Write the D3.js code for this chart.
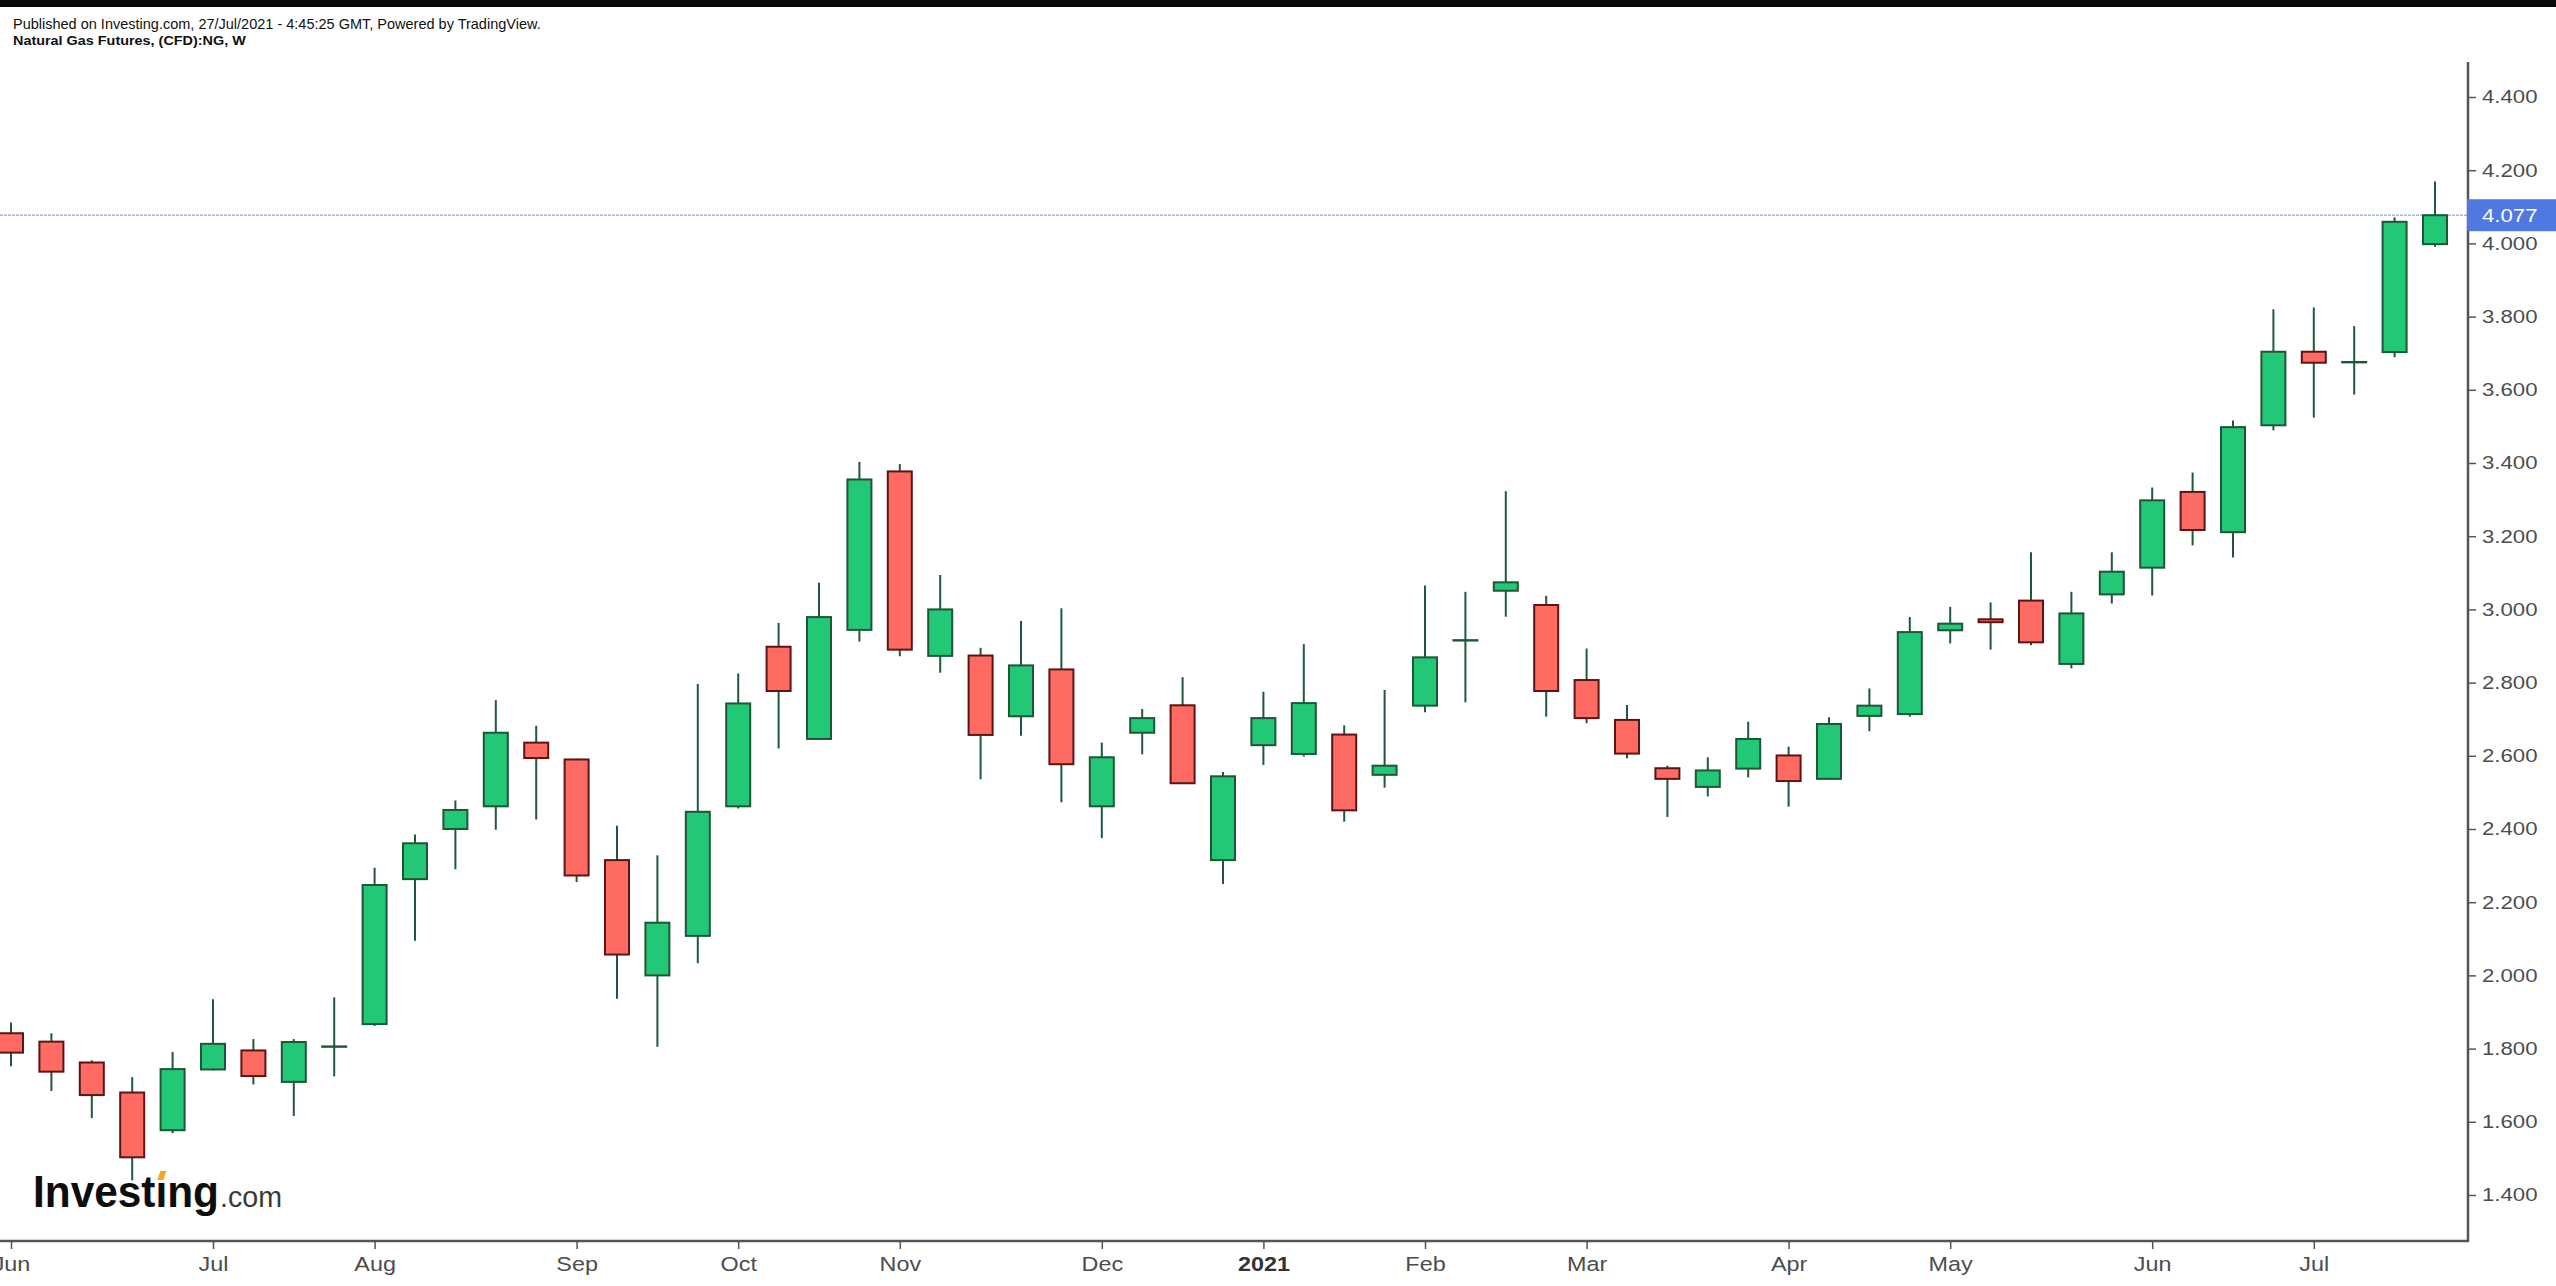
<!DOCTYPE html>
<html>
<head>
<meta charset="utf-8">
<script src="https://cdn.jsdelivr.net/npm/d3@7"></script>
<style>
  html, body { margin: 0; padding: 0; background: #fff; overflow: hidden; }
  svg { display: block; }
  text { font-family: "Liberation Sans", Arial, Helvetica, sans-serif; }
</style>
</head>
<body>
<svg id="chart" width="2556" height="1286"></svg>
<script>
// ---- Data (weekly candles, Natural Gas Futures) ----
const dates = [
  "2020-06-01","2020-06-08","2020-06-15","2020-06-22","2020-06-29",
  "2020-07-06","2020-07-13","2020-07-20","2020-07-27","2020-08-03",
  "2020-08-10","2020-08-17","2020-08-24","2020-08-31","2020-09-07",
  "2020-09-14","2020-09-21","2020-09-28","2020-10-05","2020-10-12",
  "2020-10-19","2020-10-26","2020-11-02","2020-11-09","2020-11-16",
  "2020-11-23","2020-11-30","2020-12-07","2020-12-14","2020-12-21",
  "2020-12-28","2021-01-04","2021-01-11","2021-01-18","2021-01-25",
  "2021-02-01","2021-02-08","2021-02-15","2021-02-22","2021-03-01",
  "2021-03-08","2021-03-15","2021-03-22","2021-03-29","2021-04-05",
  "2021-04-12","2021-04-19","2021-04-26","2021-05-03","2021-05-10",
  "2021-05-17","2021-05-24","2021-05-31","2021-06-07","2021-06-14",
  "2021-06-21","2021-06-28","2021-07-05","2021-07-12","2021-07-19",
  "2021-07-26"
];
const openV = [
  1.842,1.819,1.762,1.680,1.577, 1.743,1.795,1.709,1.805,1.867,
  2.263,2.400,2.462,2.636,2.590, 2.315,2.000,2.108,2.462,2.898,
  2.646,2.944,3.377,2.873,2.874, 2.708,2.836,2.462,2.663,2.738,
  2.315,2.629,2.605,2.658,2.548, 2.737,2.915,3.051,3.012,2.807,
  2.698,2.566,2.515,2.565,2.601, 2.537,2.709,2.714,2.943,2.973,
  3.024,2.851,3.041,3.114,3.321, 3.211,3.503,3.704,3.675,3.703,
  3.998
];
const highV = [
  1.871,1.842,1.768,1.722,1.791, 1.935,1.826,1.826,1.940,2.294,
  2.385,2.478,2.752,2.682,2.592, 2.409,2.328,2.796,2.825,2.963,
  3.073,3.403,3.397,3.094,2.895, 2.968,3.003,2.636,2.728,2.815,
  2.556,2.775,2.905,2.683,2.780, 3.065,3.048,3.323,3.037,2.893,
  2.739,2.573,2.596,2.693,2.625, 2.705,2.784,2.979,3.007,3.019,
  3.156,3.048,3.156,3.333,3.374, 3.516,3.820,3.825,3.774,4.071,
  4.169
];
const lowV = [
  1.752,1.684,1.610,1.440,1.569, 1.740,1.702,1.616,1.724,1.862,
  2.095,2.290,2.398,2.426,2.255, 1.936,1.805,2.033,2.456,2.620,
  2.644,2.912,2.872,2.827,2.536, 2.655,2.473,2.375,2.604,2.523,
  2.250,2.575,2.598,2.420,2.513, 2.719,2.746,2.980,2.707,2.689,
  2.593,2.433,2.489,2.541,2.461, 2.535,2.667,2.707,2.907,2.890,
  2.902,2.839,3.016,3.038,3.175, 3.142,3.489,3.524,3.587,3.689,
  3.991
];
const closeV = [
  1.789,1.737,1.673,1.503,1.744, 1.813,1.725,1.818,1.806,2.247,
  2.361,2.452,2.663,2.594,2.273, 2.057,2.144,2.447,2.743,2.777,
  2.979,3.355,2.890,3.000,2.657, 2.847,2.577,2.596,2.703,2.525,
  2.544,2.703,2.744,2.451,2.573, 2.869,2.916,3.074,2.777,2.703,
  2.606,2.537,2.560,2.646,2.531, 2.687,2.737,2.938,2.961,2.965,
  2.910,2.989,3.103,3.298,3.217, 3.498,3.704,3.674,3.676,4.059,
  4.077
];
const yTickValues = [1.4,1.6,1.8,2.0,2.2,2.4,2.6,2.8,3.0,3.2,3.4,3.6,3.8,4.0,4.2,4.4];
const monthTickDates = ["2020-06-01","2020-07-06","2020-08-03","2020-09-07","2020-10-05",
  "2020-11-02","2020-12-07","2021-01-04","2021-02-01","2021-03-01","2021-04-05",
  "2021-05-03","2021-06-07","2021-07-05"];
const monthTickLabels = ["Jun","Jul","Aug","Sep","Oct","Nov","Dec","2021","Feb","Mar","Apr","May","Jun","Jul"];
const lastPrice = 4.077;
const headerLine1 = "Published on Investing.com, 27/Jul/2021 - 4:45:25 GMT, Powered by TradingView.";
const headerLine2 = "Natural Gas Futures, (CFD):NG, W";

// ---- Layout ----
const W = 2556, H = 1286;
const axisX = 2468, axisY = 1241, plotTop = 62;
const STRETCH = 1.2;
const C = {
  up: "#22c875", down: "#ff6a62", upBorder: "#1e5638", downBorder: "#5a1616",
  wick: "#1e5a3a", axis: "#555555", label: "#4d4d4d", priceLine: "#a3b7f3", priceBox: "#4f78e1"
};

const parse = d3.utcParse("%Y-%m-%d");
const data = dates.map((d, i) => ({ date: parse(d), o: openV[i], h: highV[i], l: lowV[i], c: closeV[i] }));

const x = d3.scaleUtc().domain([parse(dates[0]), parse(dates[dates.length - 1])]).range([11, 2435]);
const y = d3.scaleLinear().domain([1.4, 4.4]).range([1195, 97]);

const svg = d3.select("#chart");
svg.append("rect").attr("width", W).attr("height", H).attr("fill", "#fff");
svg.append("rect").attr("x", 0).attr("y", 0).attr("width", W).attr("height", 7).attr("fill", "#0a0a0a");

// header
svg.append("text").attr("x", 13).attr("y", 28.5)
  .attr("font-size", 14.5).attr("fill", "#111").text(headerLine1);
svg.append("text").attr("transform", "translate(13,44.5) scale(1.2,1)")
  .attr("font-size", 12).attr("font-weight", "bold").attr("fill", "#111").text(headerLine2);

// price line
svg.append("line").attr("x1", 0).attr("x2", axisX).attr("y1", y(lastPrice)).attr("y2", y(lastPrice))
  .attr("stroke", C.priceLine).attr("stroke-width", 1.5).attr("stroke-dasharray", "3 1");

// candles
const bw = 24;
const g = svg.append("g");
const cs = g.selectAll("g.c").data(data).join("g").attr("class", "c");
cs.append("line")
  .attr("x1", d => x(d.date)).attr("x2", d => x(d.date))
  .attr("y1", d => y(d.h)).attr("y2", d => y(d.l))
  .attr("stroke", C.wick).attr("stroke-width", 2);
cs.append("rect")
  .attr("x", d => x(d.date) - bw / 2).attr("width", bw)
  .attr("y", d => y(Math.max(d.o, d.c)))
  .attr("height", d => Math.max(Math.abs(y(d.o) - y(d.c)), 0.4))
  .attr("fill", d => d.c >= d.o ? C.up : C.down)
  .attr("stroke", d => d.c >= d.o ? C.upBorder : C.downBorder)
  .attr("stroke-width", 2);

// axes lines
svg.append("line").attr("x1", 0).attr("x2", axisX + 1).attr("y1", axisY).attr("y2", axisY)
  .attr("stroke", C.axis).attr("stroke-width", 2.5);
svg.append("line").attr("x1", axisX).attr("x2", axisX).attr("y1", plotTop).attr("y2", axisY + 1)
  .attr("stroke", C.axis).attr("stroke-width", 2.5);

// y axis
const yAxis = d3.axisRight(y).tickValues(yTickValues).tickSize(8).tickPadding(6)
  .tickFormat(d3.format(".3f"));
const yg = svg.append("g").attr("transform", `translate(${axisX},0)`).call(yAxis);
yg.select(".domain").remove();
yg.selectAll(".tick line").attr("stroke", C.axis).attr("stroke-width", 1.5);
yg.selectAll(".tick text")
  .attr("font-family", "'Liberation Sans', Arial, sans-serif")
  .attr("font-size", 18.5).attr("fill", C.label)
  .attr("x", 14 / STRETCH).attr("transform", `scale(${STRETCH},1)`);

// x axis
const xAxis = d3.axisBottom(x).tickValues(monthTickDates.map(parse)).tickSize(8).tickPadding(8)
  .tickFormat((d, i) => monthTickLabels[i]);
const xg = svg.append("g").attr("transform", `translate(0,${axisY})`).call(xAxis);
xg.select(".domain").remove();
xg.selectAll(".tick line").attr("stroke", C.axis).attr("stroke-width", 1.5);
xg.selectAll(".tick text")
  .attr("font-family", "'Liberation Sans', Arial, sans-serif")
  .attr("font-size", 19.5).attr("fill", C.label)
  .attr("font-weight", (d, i) => monthTickLabels[i] === "2021" ? "bold" : null)
  .attr("transform", `scale(${STRETCH},1)`);
xg.selectAll(".tick text").filter((d, i) => monthTickLabels[i] === "2021").attr("fill", "#333");

// last price label
const py = y(lastPrice);
svg.append("rect").attr("x", axisX - 1).attr("y", py - 16).attr("width", W - axisX + 1).attr("height", 32)
  .attr("fill", C.priceBox);
svg.append("text").attr("transform", `translate(${axisX + 14},${py}) scale(${STRETCH},1)`)
  .attr("dy", "0.35em").attr("font-size", 18.5).attr("fill", "#fff").text(lastPrice.toFixed(3));

// logo
const logo = svg.append("g");
const t1 = logo.append("text").attr("x", 33).attr("y", 1207)
  .attr("font-size", 44).attr("font-weight", "bold").attr("fill", "#0d0d0d")
  .attr("textLength", 186).attr("lengthAdjust", "spacingAndGlyphs")
  .text("Invest\u0131ng");
logo.append("text").attr("x", 220).attr("y", 1207)
  .attr("font-size", 29).attr("fill", "#3a3a3a")
  .attr("textLength", 62).attr("lengthAdjust", "spacingAndGlyphs")
  .text(".com");
let dx = 162;
try {
  const n = t1.node();
  const s = n.getStartPositionOfChar(6).x, e = n.getEndPositionOfChar(6).x;
  dx = (s + e) / 2;
} catch (err) {}
logo.append("path")
  .attr("d", `M${dx - 4},1180 L${dx - 1},1171 L${dx + 5},1171 L${dx + 2},1180 Z`)
  .attr("fill", "#f5a623");
</script>
</body>
</html>
